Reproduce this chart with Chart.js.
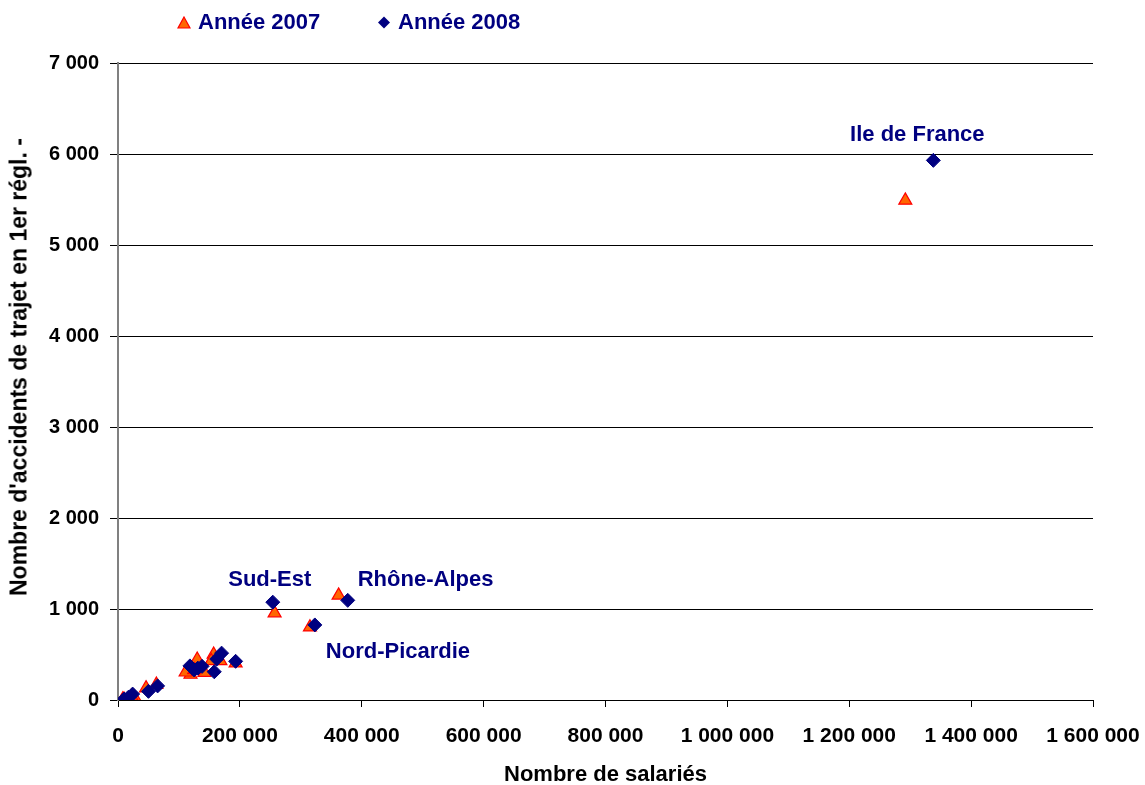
<!DOCTYPE html>
<html>
<head>
<meta charset="utf-8">
<script src="https://cdn.jsdelivr.net/npm/chart.js@4.4.0/dist/chart.umd.min.js"></script>
<style>
    body { margin: 0; background: #fff; font-family: "Liberation Sans", Arial, sans-serif; }
    #wrap { position: relative; width: 1145px; height: 785px; }
    .legend-item { position: absolute; top: 9px; font-weight: bold; font-size: 22px; color: #000080; display: flex; align-items: center; }
    .legend-item svg { margin-right: 7px; }
    #ytitle { position: absolute; left: 19px; top: 367px; transform: translate(-50%, -50%) rotate(-90deg); white-space: nowrap; font-weight: bold; font-size: 23px; color: #000; }
</style>
</head>
<body>
<div id="wrap">
    <canvas id="chart" width="1145" height="785"></canvas>
    <div class="legend-item" style="left:177px">
        <svg width="14" height="13"><polygon points="7,1 13,12 1,12" fill="#ff6600" stroke="#ff0000" stroke-width="1.2"/></svg>Année 2007
    </div>
    <div class="legend-item" style="left:377px">
        <svg width="14" height="13"><polygon points="7,0.5 13,6.5 7,12.5 1,6.5" fill="#000080"/></svg>Année 2008
    </div>
    <div id="ytitle">Nombre d'accidents de trajet en 1er régl. -</div>
</div>
<script>
// salariés (x) et accidents de trajet (y) par région
const salaries2007 = [1292000, 362000, 257000, 315000, 193000, 168000, 157000, 153000, 142000, 130000, 119000, 111000, 125000, 63000, 46000, 27000, 10000, 8000, 22000];
const accidents2007 = [5490, 1150, 955, 800, 405, 430, 500, 430, 300, 445, 280, 305, 330, 170, 130, 30, 5, 10, 40];

const salaries2008 = [1338000, 377000, 254000, 323000, 193000, 170000, 162000, 158000, 131000, 118000, 125000, 138000, 65000, 50000, 24000, 17000, 10000];
const accidents2008 = [5930, 1095, 1075, 825, 425, 515, 450, 310, 350, 375, 330, 370, 155, 95, 65, 30, 10];

// noms affichés à côté des points 2008 (index dans les tableaux 2008)
const regionNames = ['Ile de France', 'Rhône-Alpes', 'Sud-Est', 'Nord-Picardie'];
const regionIndex = [0, 1, 2, 3];

const xTicks = [0, 200000, 400000, 600000, 800000, 1000000, 1200000, 1400000, 1600000];
const yTicks = [0, 1000, 2000, 3000, 4000, 5000, 6000, 7000];

// placement du texte par rapport au point
const labelPlacement = [
    { dx: -16, dy: -25, align: 'center' },
    { dx: 10, dy: -20, align: 'left' },
    { dx: -3, dy: -22, align: 'center' },
    { dx: 11, dy: 27, align: 'left' }
];

function fmt(v) {
    return String(v).replace(/\B(?=(\d{3})+(?!\d))/g, ' ');
}

function toPoints(xs, ys) {
    return xs.map((x, i) => ({ x: x, y: ys[i] }));
}

const regionLabels = {
    id: 'regionLabels',
    afterDatasetsDraw(chart) {
        const ctx = chart.ctx;
        const xs = chart.scales.x, ys = chart.scales.y;
        ctx.save();
        ctx.font = 'bold 22px "Liberation Sans", Arial, sans-serif';
        ctx.fillStyle = '#000080';
        ctx.textBaseline = 'middle';
        regionNames.forEach((name, i) => {
            const k = regionIndex[i];
            const p = labelPlacement[i];
            const px = xs.getPixelForValue(salaries2008[k]);
            const py = ys.getPixelForValue(accidents2008[k]);
            ctx.textAlign = p.align;
            ctx.fillText(name, px + p.dx, py + p.dy);
        });
        ctx.restore();
    }
};

const fam = '"Liberation Sans", Arial, sans-serif';

new Chart(document.getElementById('chart'), {
    type: 'scatter',
    data: {
        datasets: [
            {
                label: 'Année 2007',
                data: toPoints(salaries2007, accidents2007),
                pointStyle: 'triangle',
                pointRadius: 7.5,
                pointHoverRadius: 7.5,
                backgroundColor: '#ff6600',
                borderColor: '#ff0000',
                borderWidth: 1.2,
                order: 2
            },
            {
                label: 'Année 2008',
                data: toPoints(salaries2008, accidents2008),
                pointStyle: 'rectRot',
                pointRadius: 7,
                pointHoverRadius: 7,
                backgroundColor: '#000080',
                borderColor: '#000080',
                borderWidth: 1,
                order: 1
            }
        ]
    },
    options: {
        responsive: false,
        animation: false,
        layout: { padding: { top: 63, right: 52, left: 0, bottom: 0 } },
        plugins: {
            legend: { display: false },
            tooltip: { enabled: false }
        },
        scales: {
            x: {
                type: 'linear',
                min: 0,
                max: 1600000,
                afterBuildTicks: s => { s.ticks = xTicks.map(v => ({ value: v })); },
                afterFit: s => { s.height = 85; s.paddingRight = 0; s.paddingLeft = 0; },
                ticks: { callback: v => fmt(v), color: '#000', font: { family: fam, size: 21, weight: 'bold' }, padding: 17, maxRotation: 0, autoSkip: false },
                grid: { drawOnChartArea: false, drawTicks: true, tickLength: 7, color: '#000' },
                border: { color: '#000', width: 1 },
                title: { display: true, text: 'Nombre de salariés', color: '#000', font: { family: fam, size: 22, weight: 'bold' }, padding: { top: 0, bottom: -3 } }
            },
            y: {
                min: 0,
                max: 7000,
                afterBuildTicks: s => { s.ticks = yTicks.map(v => ({ value: v })); },
                afterFit: s => { s.width = 118; },
                ticks: { callback: v => fmt(v), color: '#000', font: { family: fam, size: 20, weight: 'bold' }, padding: 11 },
                grid: { color: '#000', lineWidth: 1, drawTicks: true, tickLength: 8 },
                border: { color: '#808080', width: 2 }
            }
        }
    },
    plugins: [regionLabels]
});
</script>
</body>
</html>
